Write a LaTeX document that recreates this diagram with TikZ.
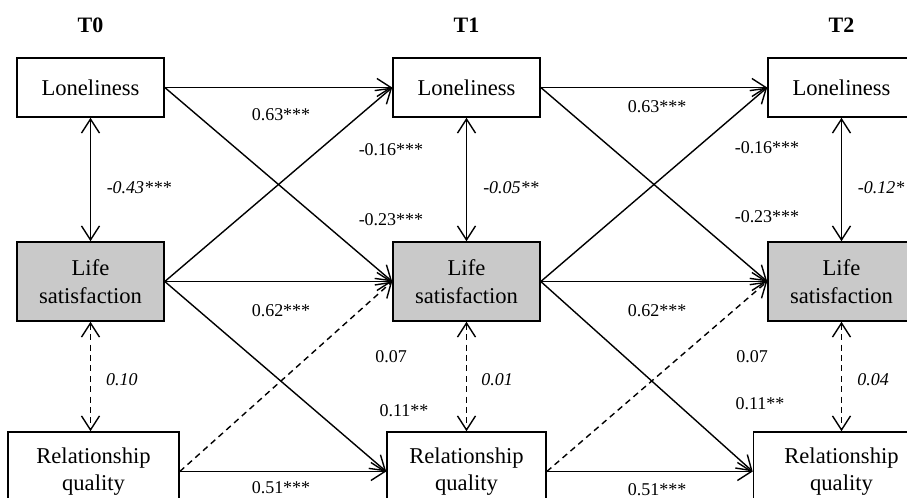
\documentclass[tikz,border=0pt]{standalone}
\usepackage{fontspec}
\setmainfont{Liberation Serif}
\usetikzlibrary{arrows.meta}

\definecolor{outcomegray}{RGB}{201,201,201}

\tikzset{
    varbox/.style={draw, line width=0.8pt, inner sep=0pt, align=center,
        minimum width=73.5pt, minimum height=39.5pt,
        font=\fontsize{11.3}{13.7}\selectfont},
    lifebox/.style={varbox, fill=outcomegray},
    wave/.style={font=\fontsize{11}{13}\selectfont\bfseries},
    coef/.style={inner sep=0pt, font=\fontsize{9}{11}\selectfont},
    corr/.style={coef, font=\fontsize{9}{11}\selectfont\itshape},
    effect/.style={line width=0.7pt, -{Straight Barb[length=7pt, width=9pt, line width=0.7pt]}},
    assoc/.style={line width=0.7pt,
        {Straight Barb[length=7pt, width=9pt, line width=0.7pt]}-{Straight Barb[length=7pt, width=9pt, line width=0.7pt]}},
    nonsig/.style={dash pattern=on 3pt off 2.2pt},
}

\begin{document}
\begin{tikzpicture}[x=0.5pt, y=-0.5pt]
        \pgfmathsetmacro{\colA}{90.5}
        \pgfmathsetmacro{\colB}{466.5}
        \pgfmathsetmacro{\colC}{841.5}
        \pgfmathsetmacro{\rowLon}{87.5}
        \pgfmathsetmacro{\rowLife}{281.5}
        \pgfmathsetmacro{\rowRel}{471.5}

        \useasboundingbox (0, 0) rectangle (907, 498);
        \clip (0, 0) rectangle (907, 498);

        % waves
        \node[wave] (waveT0) at (\colA, 25) {T0};
        \node[wave] (waveT1) at (\colB, 25) {T1};
        \node[wave] (waveT2) at (\colC, 25) {T2};

        % T0
        \node[varbox, minimum height=29.5pt] (lonT0) at (\colA, \rowLon) {Loneliness};
        \node[lifebox] (lifeT0) at (\colA, \rowLife) {Life\\satisfaction};
        \node[varbox, minimum width=85.5pt] (relT0) at (93.5, \rowRel) {Relationship\\quality};

        % T1
        \node[varbox, minimum height=29.5pt] (lonT1) at (\colB, \rowLon) {Loneliness};
        \node[lifebox] (lifeT1) at (\colB, \rowLife) {Life\\satisfaction};
        \node[varbox, minimum width=79.5pt] (relT1) at (\colB, \rowRel) {Relationship\\quality};

        % T2
        \node[varbox, minimum height=29.5pt] (lonT2) at (\colC, \rowLon) {Loneliness};
        \node[lifebox] (lifeT2) at (\colC, \rowLife) {Life\\satisfaction};
        \node[varbox, minimum width=88pt] (relT2) at (\colC, \rowRel) {Relationship\\quality};

        % within-wave associations
        \draw[assoc] (lonT0) -- (lifeT0);
        \draw[assoc, nonsig] (lifeT0.south) -- (lifeT0.south |- relT0.north);
        \draw[assoc] (lonT1) -- (lifeT1);
        \draw[assoc, nonsig] (lifeT1.south) -- (lifeT1.south |- relT1.north);
        \draw[assoc] (lonT2) -- (lifeT2);
        \draw[assoc, nonsig] (lifeT2.south) -- (lifeT2.south |- relT2.north);

        % T0 -> T1
        \draw[effect] (lonT0.east) -- (lonT1.west);
        \draw[effect] (lonT0.east) -- (lifeT1.west);
        \draw[effect] (lifeT0.east) -- (lonT1.west);
        \draw[effect] (lifeT0.east) -- (lifeT1.west);
        \draw[effect] (lifeT0.east) -- (relT1.west);
        \draw[effect, nonsig] (relT0.east) -- (lifeT1.west);
        \draw[effect] (relT0.east) -- (relT1.west);

        % T1 -> T2
        \draw[effect] (lonT1.east) -- (lonT2.west);
        \draw[effect] (lonT1.east) -- (lifeT2.west);
        \draw[effect] (lifeT1.east) -- (lonT2.west);
        \draw[effect] (lifeT1.east) -- (lifeT2.west);
        \draw[effect] (lifeT1.east) -- (relT2.west);
        \draw[effect, nonsig] (relT1.east) -- (lifeT2.west);
        \draw[effect] (relT1.east) -- (relT2.west);

        % coefficients
        \node[corr] (rLonLifeT0) at (139, 188) {-0.43***};
        \node[corr] (rLifeRelT0) at (122, 380) {0.10};
        \node[corr] (rLonLifeT1) at (511, 188) {-0.05**};
        \node[corr] (rLifeRelT1) at (497, 380) {0.01};
        \node[corr] (rLonLifeT2) at (881, 188) {-0.12*};
        \node[corr] (rLifeRelT2) at (873, 380) {0.04};

        \node[coef] (bLonA) at (281, 115) {0.63***};
        \node[coef] (bLifeLonA) at (391, 150) {-0.16***};
        \node[coef] (bLonLifeA) at (391, 220) {-0.23***};
        \node[coef] (bLifeA) at (281, 311) {0.62***};
        \node[coef] (bRelLifeA) at (391, 357) {0.07};
        \node[coef] (bLifeRelA) at (404, 411) {0.11**};
        \node[coef] (bRelA) at (281, 488) {0.51***};

        \node[coef] (bLonB) at (657, 107) {0.63***};
        \node[coef] (bLifeLonB) at (767, 148) {-0.16***};
        \node[coef] (bLonLifeB) at (767, 217) {-0.23***};
        \node[coef] (bLifeB) at (657, 311) {0.62***};
        \node[coef] (bRelLifeB) at (752, 357) {0.07};
        \node[coef] (bLifeRelB) at (760, 404) {0.11**};
        \node[coef] (bRelB) at (657, 490) {0.51***};
    \end{tikzpicture}
\end{document}
